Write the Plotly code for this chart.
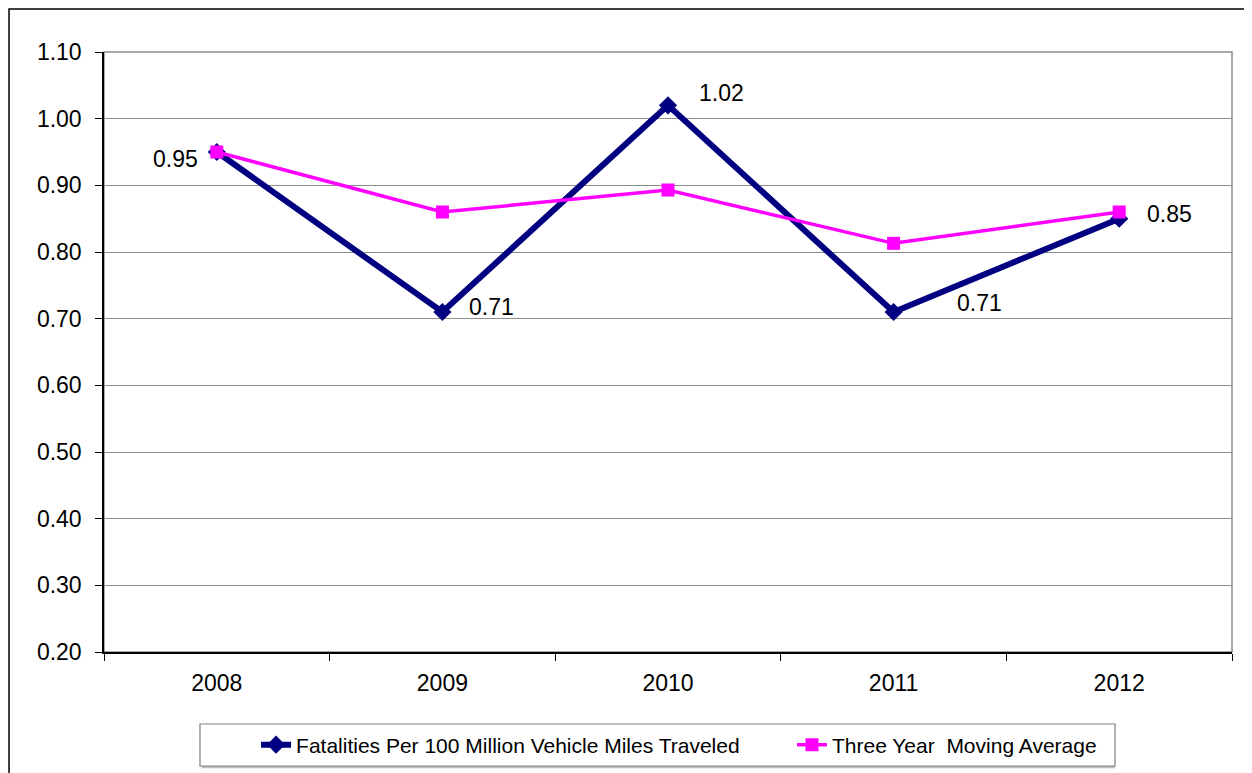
import plotly.graph_objects as go

years = ["2008", "2009", "2010", "2011", "2012"]
fatality_rate = [0.95, 0.71, 1.02, 0.71, 0.85]
moving_avg = [0.95, 0.86, 0.893, 0.813, 0.86]
label_text = ["0.95", "0.71", "1.02", "0.71", "0.85"]
label_xshift = [-41, 49, 53, 86, 50]
label_yshift = [-7, 5, 12, 9, 5]

FONT = "Liberation Sans, Arial, sans-serif"

fig = go.Figure()
fig.add_trace(go.Scatter(
    x=years, y=fatality_rate, mode="lines+markers",
    name="Fatalities Per 100 Million Vehicle Miles Traveled",
    line=dict(color="#000080", width=6),
    marker=dict(symbol="diamond", size=14, color="#000080"),
    legend="legend",
))
fig.add_trace(go.Scatter(
    x=years, y=moving_avg, mode="lines+markers",
    name="Three Year  Moving Average",
    line=dict(color="#FF00FF", width=3.5),
    marker=dict(symbol="square", size=13, color="#FF00FF"),
    legend="legend2",
))

# data labels (category axis annotations use category index)
for i, (yv, t, dx, dy) in enumerate(zip(fatality_rate, label_text, label_xshift, label_yshift)):
    fig.add_annotation(x=i, y=yv, xref="x", yref="y", text=t, showarrow=False,
                       xshift=dx, yshift=dy,
                       font=dict(family=FONT, size=23, color="black"))

# plot area border (gray)
fig.add_shape(type="rect", xref="paper", yref="paper", x0=0, y0=0, x1=1, y1=1,
              line=dict(color="#8c8c8c", width=1.5), layer="below")
# outer chart frame
fig.add_shape(type="rect", xref="paper", yref="paper", x0=-0.0842, y0=-0.4, x1=1.2, y1=1.0717,
              line=dict(color="black", width=1.5), layer="below")
# legend box with light shadow
fig.add_shape(type="line", xref="paper", yref="paper", x0=0.0865, x1=0.8963, y0=-0.1917, y1=-0.1917,
              line=dict(color="#c0c0c0", width=2.5), layer="below")
fig.add_shape(type="rect", xref="paper", yref="paper", x0=0.0851, y0=-0.19, x1=0.8963, y1=-0.12,
              line=dict(color="#808080", width=1.2), fillcolor="white", layer="below")

legend_style = dict(orientation="h", yanchor="middle", xanchor="left",
                    yref="container", y=0.0366,
                    borderwidth=0, bgcolor="rgba(0,0,0,0)",
                    font=dict(family=FONT, size=21, color="black"))

fig.update_layout(
    width=1244, height=765,
    margin=dict(l=96, r=20, t=44, b=121, autoexpand=False),
    paper_bgcolor="white", plot_bgcolor="white",
    font=dict(family=FONT, size=23, color="black"),
    showlegend=True,
    legend=dict(x=0.1348, **legend_style),
    legend2=dict(x=0.6099, **legend_style),
    xaxis=dict(type="category", range=[-0.5, 4.5], tickson="boundaries",
               ticks="outside", ticklen=7, tickcolor="black",
               showline=True, linecolor="black", linewidth=1.5,
               showgrid=False, tickfont=dict(size=23), ticklabelstandoff=10),
    yaxis=dict(range=[0.2, 1.1], dtick=0.1, tick0=0.2, tickformat=".2f",
               ticks="outside", ticklen=7, tickcolor="black",
               showline=True, linecolor="black", linewidth=1.5,
               showgrid=True, gridcolor="#8c8c8c", gridwidth=1,
               zeroline=False, tickfont=dict(size=23), ticklabelstandoff=9),
)

fig.write_html("out.html")
